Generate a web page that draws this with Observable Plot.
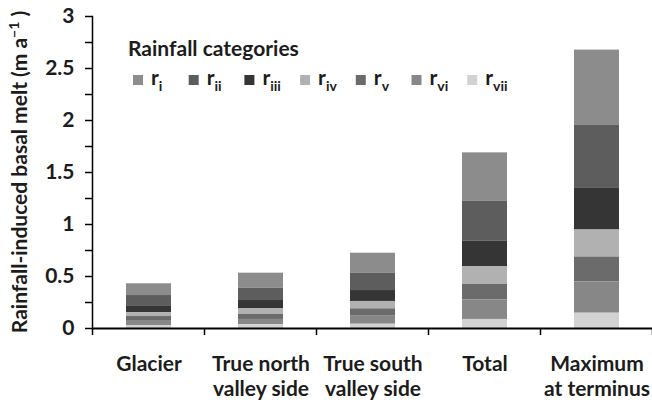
<!DOCTYPE html>
<html><head><meta charset="utf-8">
<script src="https://cdn.jsdelivr.net/npm/d3@7"></script>
<script src="https://cdn.jsdelivr.net/npm/@observablehq/plot@0.6"></script>
<style>
html,body{margin:0;padding:0;background:#fff;}
#chart{position:relative;width:652px;height:403px;}
</style></head><body><div id="chart"></div>
<script>
const categories = ["Glacier", "True north valley side", "True south valley side", "Total", "Maximum at terminus"];
const tickLabels = ["Glacier", "True north\nvalley side", "True south\nvalley side", "Total", "Maximum\nat terminus"];
const series = ["i", "ii", "iii", "iv", "v", "vi", "vii"];
const seriesColors = ["#8c8c8c", "#5d5d5d", "#353535", "#b1b1b1", "#6b6b6b", "#878787", "#d2d2d2"];
const r_i   = [0.113, 0.144, 0.192, 0.465, 0.72];
const r_ii  = [0.099, 0.119, 0.167, 0.385, 0.61];
const r_iii = [0.067, 0.080, 0.105, 0.243, 0.40];
const r_iv  = [0.036, 0.054, 0.071, 0.173, 0.26];
const r_v   = [0.038, 0.048, 0.071, 0.147, 0.24];
const r_vi  = [0.048, 0.051, 0.077, 0.189, 0.30];
const r_vii = [0.029, 0.036, 0.041, 0.087, 0.147];
const yTicks = [0, 0.5, 1, 1.5, 2, 2.5, 3];
const yTickLabels = ["0", "0.5", "1", "1.5", "2", "2.5", "3"];
const yMinorTicks = [0.25, 0.75, 1.25, 1.75, 2.25, 2.75];
const yLabelMain = "Rainfall-induced basal melt (m a";
const yLabelSup = "\u22121";
const yLabelEnd = " )";
const legendTitle = "Rainfall categories";

const seriesValues = {i: r_i, ii: r_ii, iii: r_iii, iv: r_iv, v: r_v, vi: r_vi, vii: r_vii};
const data = series.flatMap(s => categories.map((c, j) => ({category: c, series: s, value: seriesValues[s][j]})));

const FONT = "Lato, 'Open Sans', sans-serif";
const chart = Plot.plot({
  width: 652, height: 403,
  marginLeft: 92, marginRight: 0, marginTop: 16, marginBottom: 75,
  style: {fontFamily: FONT, fontWeight: "bold", fontSize: "21px", color: "#1c1c1c", background: "#fff"},
  x: {domain: categories, paddingInner: 0.6, paddingOuter: 0.3, label: null},
  y: {domain: [0, 3], label: null},
  color: {domain: series, range: seriesColors},
  marks: [
    Plot.barY(data, {x: "category", y: "value", fill: "series", z: "series", order: [...series].reverse()}),
    Plot.axisY({ticks: yTicks, tickSize: 7, tickPadding: 11, fontSize: 21, label: null, strokeWidth: 1.5, stroke: "#000",
      tickFormat: d => yTickLabels[yTicks.indexOf(d)]}),
    Plot.axisY({ticks: yMinorTicks, tickSize: 7, tickFormat: () => "", label: null, strokeWidth: 1.5, stroke: "#000"}),
    Plot.axisX({tickSize: 0, tickPadding: 24, tickFormat: d => tickLabels[categories.indexOf(d)], fontSize: 21, lineHeight: 1.22, label: null}),
    Plot.ruleY([0], {strokeWidth: 1.8, stroke: "#000"}),
    Plot.frame({anchor: "left", strokeWidth: 1.5, stroke: "#000"})
  ]
});
document.getElementById("chart").appendChild(chart);

const svg = d3.select(chart);
// category boundary ticks on x axis
const xs = chart.scale("x");
const ys = chart.scale("y");
const y0 = ys.apply(0);
const gap = (xs.step - xs.bandwidth) / 2;
const bounds = categories.map(c => xs.apply(c) - gap).concat([xs.apply(categories[categories.length - 1]) + xs.bandwidth + gap]);
svg.append("g").selectAll("line").data(bounds).join("line")
  .attr("x1", d => d).attr("x2", d => d).attr("y1", y0).attr("y2", y0 + 7)
  .attr("stroke", "#000").attr("stroke-width", 1.5);

// y axis title
const yMid = (ys.apply(0) + ys.apply(3)) / 2;
const yl = svg.append("text")
  .attr("transform", `translate(27,${yMid}) rotate(-90)`)
  .attr("text-anchor", "middle").attr("font-size", 21).attr("font-weight", "bold")
  .attr("fill", "#1c1c1c").attr("font-family", FONT);
yl.append("tspan").text(yLabelMain);
yl.append("tspan").attr("dy", -8).attr("font-size", 14).text(yLabelSup);
yl.append("tspan").attr("dy", 8).text(yLabelEnd);

// legend
const lg = svg.append("g").attr("font-family", FONT).attr("font-weight", "bold").attr("fill", "#1c1c1c")
  .attr("text-anchor", "start");
lg.append("text").attr("x", 128).attr("y", 56).attr("font-size", 21).attr("text-anchor", "start").text(legendTitle);
const items = lg.selectAll("g.item").data(series).join("g")
  .attr("transform", (d, i) => `translate(${133 + i * 55.7},0)`);
items.append("rect").attr("x", 0).attr("y", 75).attr("width", 10).attr("height", 10)
  .attr("fill", d => chart.scale("color").apply(d));
const t = items.append("text").attr("x", 18).attr("y", 85).attr("font-size", 21).attr("text-anchor", "start");
t.append("tspan").text("r");
t.append("tspan").attr("dy", 6).attr("font-size", 14).text(d => d);
</script></body></html>
